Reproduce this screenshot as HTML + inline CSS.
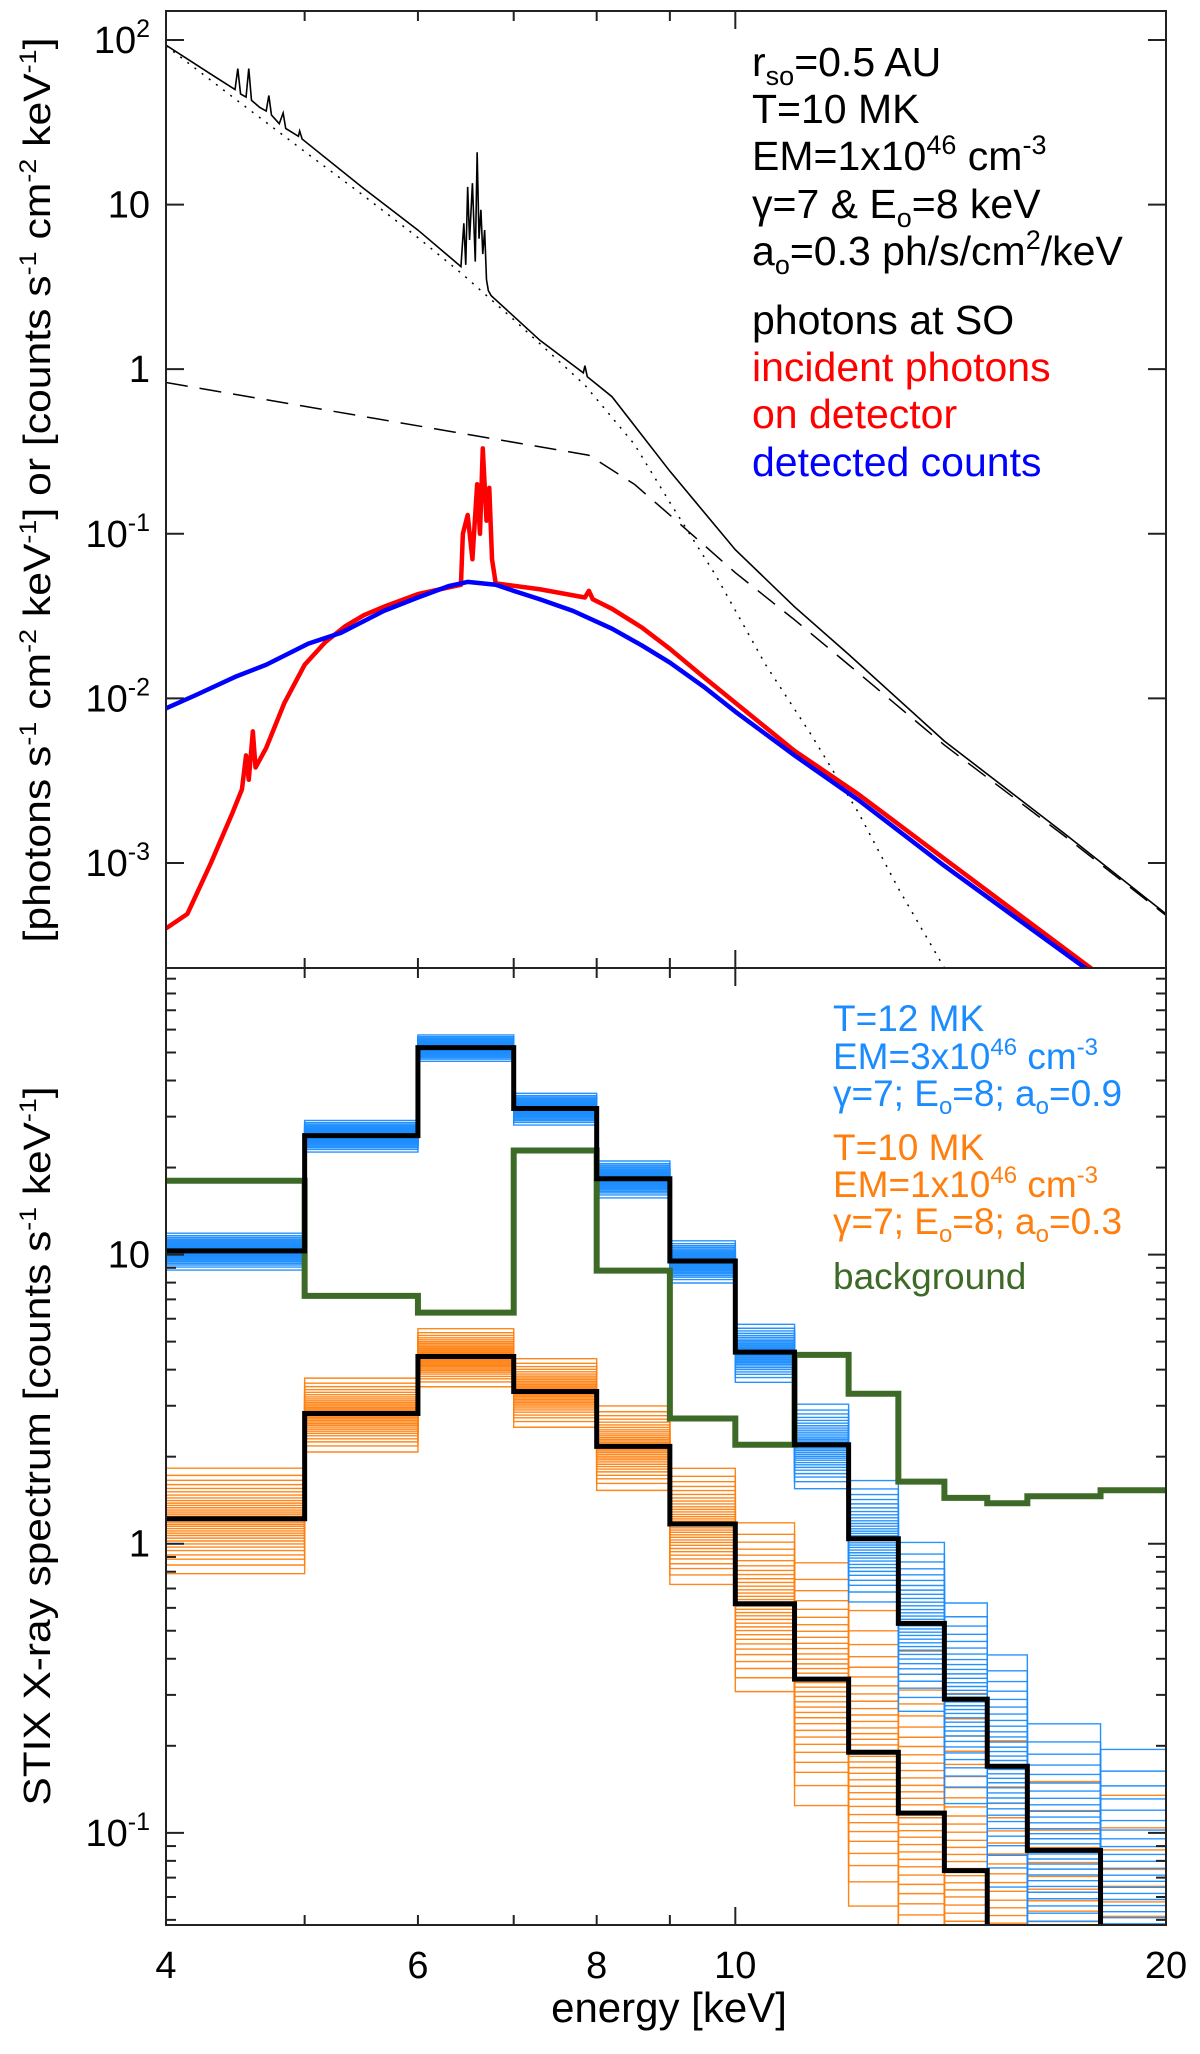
<!DOCTYPE html>
<html><head><meta charset="utf-8"><style>
html,body{margin:0;padding:0;background:#fff;width:1200px;height:2054px;overflow:hidden}
svg{display:block}
text{font-family:"Liberation Sans",Arial,sans-serif}
</style></head><body>
<svg id="chart" width="1200" height="2054" viewBox="0 0 1200 2054" xmlns="http://www.w3.org/2000/svg">
<defs>
<clipPath id="clipTop"><rect x="166" y="11" width="1000" height="957"/></clipPath>
<clipPath id="clipBot"><rect x="166" y="968" width="1000" height="957"/></clipPath>
</defs>
<g id="topPlot"></g>
<g id="botPlot"></g>
<g id="axes"></g>
<g id="labels">
<text transform="translate(50,490) rotate(-90)" text-anchor="middle" font-size="38" textLength="905" lengthAdjust="spacingAndGlyphs">[photons s<tspan dy="-14" font-size="24">-1</tspan><tspan dy="14"> cm</tspan><tspan dy="-14" font-size="24">-2</tspan><tspan dy="14"> keV</tspan><tspan dy="-14" font-size="24">-1</tspan><tspan dy="14">] or [counts s</tspan><tspan dy="-14" font-size="24">-1</tspan><tspan dy="14"> cm</tspan><tspan dy="-14" font-size="24">-2</tspan><tspan dy="14"> keV</tspan><tspan dy="-14" font-size="24">-1</tspan><tspan dy="14">]</tspan></text>
<text transform="translate(50,1446) rotate(-90)" text-anchor="middle" font-size="38" textLength="719" lengthAdjust="spacingAndGlyphs">STIX X-ray spectrum [counts s<tspan dy="-14" font-size="24">-1</tspan><tspan dy="14"> keV</tspan><tspan dy="-14" font-size="24">-1</tspan><tspan dy="14">]</tspan></text>
<text x="669" y="2022" text-anchor="middle" font-size="42">energy [keV]</text>
<g font-size="41">
<text x="752" y="76">r<tspan dy="9" font-size="27">so</tspan><tspan dy="-9">=0.5 AU</tspan></text>
<text x="752" y="123">T=10 MK</text>
<text x="752" y="170">EM=1x10<tspan dy="-16" font-size="27">46</tspan><tspan dy="16"> cm</tspan><tspan dy="-16" font-size="27">-3</tspan></text>
<text x="752" y="218">γ=7 &amp; E<tspan dy="9" font-size="27">o</tspan><tspan dy="-9">=8 keV</tspan></text>
<text x="752" y="265">a<tspan dy="9" font-size="27">o</tspan><tspan dy="-9">=0.3 ph/s/cm</tspan><tspan dy="-16" font-size="27">2</tspan><tspan dy="16">/keV</tspan></text>
<text x="752" y="334" fill="#000">photons at SO</text>
<text x="752" y="381" fill="#ff0000">incident photons</text>
<text x="752" y="428" fill="#ff0000">on detector</text>
<text x="752" y="476" fill="#0000ff">detected counts</text>
</g>
<g font-size="37">
<text x="833" y="1031" fill="#1a8cff">T=12 MK</text>
<text x="833" y="1069" fill="#1a8cff">EM=3x10<tspan dy="-14" font-size="24">46</tspan><tspan dy="14"> cm</tspan><tspan dy="-14" font-size="24">-3</tspan></text>
<text x="833" y="1106" fill="#1a8cff">γ=7; E<tspan dy="8" font-size="24">o</tspan><tspan dy="-8">=8; a</tspan><tspan dy="8" font-size="24">o</tspan><tspan dy="-8">=0.9</tspan></text>
<text x="833" y="1160" fill="#ff7f0e">T=10 MK</text>
<text x="833" y="1197" fill="#ff7f0e">EM=1x10<tspan dy="-14" font-size="24">46</tspan><tspan dy="14"> cm</tspan><tspan dy="-14" font-size="24">-3</tspan></text>
<text x="833" y="1234" fill="#ff7f0e">γ=7; E<tspan dy="8" font-size="24">o</tspan><tspan dy="-8">=8; a</tspan><tspan dy="8" font-size="24">o</tspan><tspan dy="-8">=0.3</tspan></text>
<text x="833" y="1289" fill="#3d6b27">background</text>
</g>
</g>
</svg>
<script>
// ---------- TOP PANEL DATA ----------
const solidE = [4,4.3,4.47,4.49,4.51,4.55,4.57,4.59,4.65,4.7,4.72,4.74,4.8,4.83,4.85,4.95,4.96,4.98,5.5,6.0,6.43,6.46,6.48,6.5,6.52,6.55,6.58,6.6,6.62,6.64,6.66,6.68,6.7,6.72,6.75,7.3,7.83,7.85,7.88,8.2,9,10,11,12,14,17,20];
const solidV = [93,62,50,67,47,45,67,43,39,37,46,35,31,36,29,26,28,25,12.5,7.0,4.2,7.7,4.3,12.8,6.1,13.5,4.5,20.8,6.2,9.3,5.0,7.0,3.5,3.0,2.8,1.5,0.95,1.05,0.9,0.68,0.24,0.08,0.036,0.0185,0.0055,0.0015,0.00049];
const dottedE = [4,4.5,5,5.5,6,6.44,7,7.85,8.5,9,9.7,10.5,11.3,12.2,13,14];
const dottedV = [92,42,21,11.3,6.3,3.8,2.0,0.8,0.35,0.155,0.055,0.016,0.006,0.002,0.0007,0.00023];
const dashedE = [4,7.9,8.5,9,10,11,12,14,17,20];
const dashedV = [0.83,0.30,0.2,0.13,0.058,0.03,0.016,0.0052,0.00145,0.00048];
const redE = [4,4.14,4.3,4.45,4.52,4.55,4.57,4.6,4.62,4.7,4.84,5.0,5.17,5.34,5.5,5.68,6.0,6.43,6.45,6.5,6.55,6.6,6.63,6.66,6.7,6.73,6.76,6.8,7.3,7.85,7.9,7.95,8.2,8.6,9,9.5,10,11,12.2,14,18.1,19];
const redV = [0.0004,0.00049,0.001,0.002,0.0028,0.0045,0.0032,0.0063,0.0038,0.005,0.0094,0.016,0.022,0.0275,0.032,0.036,0.043,0.049,0.1,0.13,0.07,0.2,0.1,0.33,0.12,0.19,0.07,0.05,0.046,0.041,0.045,0.04,0.035,0.027,0.02,0.0135,0.0094,0.0048,0.0026,0.00106,0.0002,0.00014];
const blueE = [4,4.2,4.47,4.7,5.03,5.3,5.68,6.0,6.3,6.5,6.8,7.0,7.3,7.7,8.2,8.6,9,9.5,10,11,12.2,14,18.1,19];
const blueV = [0.0087,0.0105,0.0135,0.016,0.0215,0.025,0.034,0.041,0.048,0.051,0.049,0.045,0.04,0.034,0.0265,0.021,0.0165,0.0118,0.0083,0.0045,0.0024,0.00096,0.00019,0.00014];
// ---------- BOTTOM PANEL DATA ----------
const binEdges = [4,5,6,7,8,9,10,11,12,13,14,15,16,18,20];
const hotMean = [10.3,25.8,52,32,18.3,9.5,4.6,2.2,1.04,0.53,0.29,0.17,0.087,0.04];
const hotSpread = [0.035,0.03,0.025,0.03,0.035,0.04,0.055,0.08,0.115,0.16,0.19,0.22,0.25,0.3];
const hotEnsembleCenter = [10.3,25.8,52,32,18.3,9.5,4.6,2.2,1.04,0.53,0.29,0.17,0.087,0.058];
const coolMean = [1.22,2.82,4.44,3.36,2.17,1.17,0.62,0.34,0.19,0.117,0.074,0.03,0.03,0.03];
const coolSpread = [0.1,0.07,0.055,0.065,0.08,0.11,0.16,0.23,0.28,0.32,0.35,0.38,0.4,0.45];
const coolEnsembleCenter = [1.22,2.82,4.44,3.36,2.17,1.17,0.62,0.34,0.19,0.117,0.074,0.045,0.03,0.022];
const bgE = [4,5,6,7,8,9,10,11,12,13,14,15,16,18,20];
const bgV = [18,7.2,6.3,22.9,8.8,2.71,2.2,4.5,3.3,1.64,1.44,1.38,1.46,1.53];
const quantiles = [-1.9,-1.6,-1.4,-1.25,-1.1,-0.98,-0.87,-0.77,-0.67,-0.58,-0.5,-0.42,-0.34,-0.26,-0.19,-0.12,-0.05,0.02,0.09,0.16,0.23,0.3,0.38,0.46,0.54,0.63,0.72,0.82,0.93,1.05,1.18,1.33,1.5,1.75];
const permA = [3,17,8,29,1,22,12,31,5,26,14,0,19,10,33,7,24,2,16,28,11,21,4,30,9,18,25,13,32,6,20,15,27,23];
const topYTicks = [100,10,1,0.1,0.01,0.001];
const topYLabels = [["10","2"],["10",""],["1",""],["10","-1"],["10","-2"],["10","-3"]];
const botYTicks = [10,1,0.1];
const botYLabels = [["10",""],["1",""],["10","-1"]];
const xTickLabelVals = [4,6,8,10,20];

// ---------- AXES ----------
const X0=166,X1=1166,XT=11,XM=968,XB=1925;
const NS='http://www.w3.org/2000/svg';
const L=Math.log10;
function xs(E){return X0+(X1-X0)*L(E/4)/L(5);}
function yTop(v){return XT+(XM-XT)*(L(150)-L(v))/(L(150)-L(0.00023));}
function yBot(v){return XM+(XB-XM)*(L(98)-L(v))/(L(98)-L(0.048));}
function mk(tag,attrs,parent){const e=document.createElementNS(NS,tag);for(const k in attrs)e.setAttribute(k,attrs[k]);parent.appendChild(e);return e;}
function lineD(E,V,ys){return E.map((e,i)=>(i?'L':'M')+xs(e).toFixed(2)+','+ys(V[i]).toFixed(2)).join('');}
function stepD(edges,V,ys){let d='';for(let i=0;i<V.length;i++){const y=ys(V[i]).toFixed(2);d+=(i?'L':'M')+xs(edges[i]).toFixed(2)+','+y+'L'+xs(edges[i+1]).toFixed(2)+','+y;}return d;}

const topG=document.getElementById('topPlot');
const tg=mk('g',{'clip-path':'url(#clipTop)'},topG);
let p;
p=mk('path',{d:lineD(dottedE,dottedV,yTop),fill:'none',stroke:'#000','stroke-width':1.5,'stroke-dasharray':'2,7'},tg);


p=mk('path',{d:lineD(dashedE,dashedV,yTop),fill:'none',stroke:'#000','stroke-width':1.5,'stroke-dasharray':'22,12'},tg);


p=mk('path',{d:lineD(solidE,solidV,yTop),fill:'none',stroke:'#000','stroke-width':1.6},tg);


p=mk('path',{d:lineD(redE,redV,yTop),fill:'none',stroke:'#ff0000','stroke-width':4.5,'stroke-linejoin':'round'},tg);


p=mk('path',{d:lineD(blueE,blueV,yTop),fill:'none',stroke:'#0000ff','stroke-width':4.5,'stroke-linejoin':'round'},tg);



const botG=document.getElementById('botPlot');
const bg=mk('g',{'clip-path':'url(#clipBot)'},botG);
function ensemble(center,spread,color,name){
  const g=mk('g',{},bg);
  
  
  for(let k=0;k<quantiles.length;k++){
    const vals=center.map((c,i)=>c*Math.pow(10,spread[i]*quantiles[(permA[k]+i*7)%quantiles.length]));
    const r=mk('path',{d:stepD(binEdges,vals,yBot),fill:'none',stroke:color,'stroke-width':1.4,opacity:0.95},g);
    
    
  }
}
ensemble(coolEnsembleCenter,coolSpread,'#ff7f0e','cool-ensemble');
ensemble(hotEnsembleCenter,hotSpread,'#1a8cff','hot-ensemble');
p=mk('path',{d:stepD(bgE,bgV,yBot),fill:'none',stroke:'#3d6b27','stroke-width':6,'stroke-linejoin':'miter'},bg);


p=mk('path',{d:stepD(binEdges,coolMean,yBot),fill:'none',stroke:'#000','stroke-width':5},bg);


p=mk('path',{d:stepD(binEdges,hotMean,yBot),fill:'none',stroke:'#000','stroke-width':5},bg);



// axes frames & ticks
const ax=document.getElementById('axes');
const fr=mk('rect',{x:X0,y:XT,width:X1-X0,height:XB-XT,fill:'none',stroke:'#222','stroke-width':2},ax);


const dv=mk('line',{x1:X0,x2:X1,y1:XM,y2:XM,stroke:'#222','stroke-width':2},ax);


function tick(x1,y1,x2,y2){mk('line',{x1,y1,x2,y2,stroke:'#222','stroke-width':2},ax);}
for(const E of [5,6,7,8,9,10]){
  const x=xs(E),len=E===10?18:10;
  tick(x,XT,x,XT+len);tick(x,XM,x,XM-len);tick(x,XM,x,XM+len);tick(x,XB,x,XB-len);
}
topYTicks.forEach((v,i)=>{
  const y=yTop(v);tick(X0,y,X0+18,y);tick(X1,y,X1-18,y);
  const t=mk('text',{x:150,y:y+13,'text-anchor':'end','font-size':38},ax);
  
  
  t.textContent=topYLabels[i][0];
  if(topYLabels[i][1]){const s=mk('tspan',{dy:-16,'font-size':25},t);s.textContent=topYLabels[i][1];}
});
for(let d=-2;d<=1;d++){for(let m=1;m<=9;m++){const v=m*Math.pow(10,d);if(v<0.048||v>98)continue;const y=yBot(v);const len=m===1?18:10;tick(X0,y,X0+len,y);tick(X1,y,X1-len,y);}}
botYTicks.forEach((v,i)=>{
  const y=yBot(v);
  const t=mk('text',{x:150,y:y+13,'text-anchor':'end','font-size':38},ax);
  
  
  t.textContent=botYLabels[i][0];
  if(botYLabels[i][1]){const s=mk('tspan',{dy:-16,'font-size':25},t);s.textContent=botYLabels[i][1];}
});
xTickLabelVals.forEach(E=>{
  const t=mk('text',{x:xs(E),y:1978,'text-anchor':'middle','font-size':38},ax);
  
  
  t.textContent=String(E);
});
</script>
</body></html>
